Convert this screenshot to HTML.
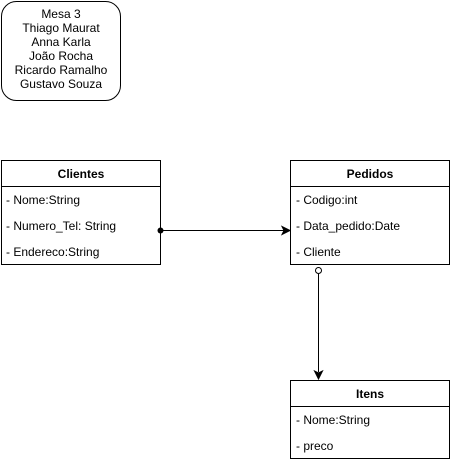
<!DOCTYPE html>
<html><head><meta charset="utf-8"><style>
body{margin:0;width:451px;height:462px;background:#fff;overflow:hidden}
svg{display:block}
text{font-family:"Liberation Sans",Arial,sans-serif;font-size:12px;fill:#000}
</style></head><body>
<svg width="451" height="462" viewBox="0 0 451 462">
<rect x="1.5" y="1.5" width="119" height="99" rx="15" fill="#fff" stroke="#000"/>
<g text-anchor="middle">
<text x="61" y="18">Mesa 3</text>
<text x="61" y="32">Thiago Maurat</text>
<text x="61" y="46">Anna Karla</text>
<text x="61" y="60">João Rocha</text>
<text x="61" y="74">Ricardo Ramalho</text>
<text x="61" y="88">Gustavo Souza</text>
</g>
<rect x="1.5" y="160.5" width="159" height="104" fill="#fff" stroke="#000"/>
<line x1="1.5" y1="186.5" x2="160.5" y2="186.5" stroke="#000"/>
<text x="81" y="178" text-anchor="middle" font-weight="bold">Clientes</text>
<text x="6" y="204">- Nome:String</text>
<text x="6" y="230">- Numero_Tel: String</text>
<text x="6" y="256">- Endereco:String</text>
<rect x="290.5" y="160.5" width="159" height="104" fill="#fff" stroke="#000"/>
<line x1="290.5" y1="186.5" x2="449.5" y2="186.5" stroke="#000"/>
<text x="370" y="178" text-anchor="middle" font-weight="bold">Pedidos</text>
<text x="296" y="204">- Codigo:int</text>
<text x="296" y="230">- Data_pedido:Date</text>
<text x="296" y="256">- Cliente</text>
<rect x="290.5" y="380.5" width="159" height="78" fill="#fff" stroke="#000"/>
<line x1="290.5" y1="406.5" x2="449.5" y2="406.5" stroke="#000"/>
<text x="370" y="398" text-anchor="middle" font-weight="bold">Itens</text>
<text x="296" y="424">- Nome:String</text>
<text x="296" y="450">- preco</text>
<line x1="160" y1="230.5" x2="284" y2="230.5" stroke="#000"/>
<circle cx="160.5" cy="230.5" r="3" fill="#000"/>
<path d="M290 230.5 L282 226.5 L284 230.5 L282 234.5 Z" fill="#000" stroke="#000"/>
<line x1="318.5" y1="274" x2="318.5" y2="372" stroke="#000"/>
<circle cx="318.5" cy="270.5" r="3" fill="#fff" stroke="#000"/>
<path d="M318.5 379 L314.5 371 L318.5 373 L322.5 371 Z" fill="#000" stroke="#000"/>
</svg>
</body></html>
